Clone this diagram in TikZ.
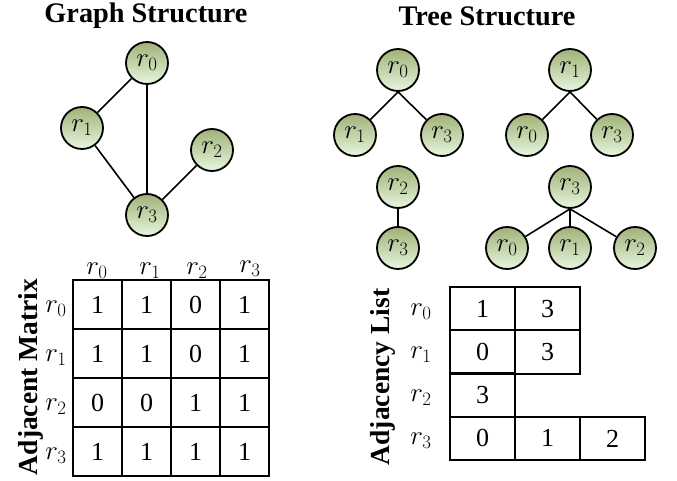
\RequirePackage{fix-cm}
\documentclass[tikz,border=0pt]{standalone}
\usepackage{fontspec}
\setmainfont{Liberation Serif}
\begin{document}
\begin{tikzpicture}[x=1pt,y=-1pt,
  vert/.style={circle,draw=black,line width=1.8pt,minimum size=42pt,inner sep=0pt,
    top color={rgb,255:red,160;green,178;blue,120},bottom color={rgb,255:red,230;green,246;blue,222},
    font=\fontsize{27}{31}\selectfont},
  edge/.style={line width=1.6pt},
  title/.style={font=\fontsize{28.3}{32}\selectfont\bfseries},
  cell/.style={draw=black,line width=2pt,minimum width=49pt,minimum height=49pt,inner sep=0pt,
    font=\fontsize{26}{30}\selectfont},
  lcell/.style={draw=black,line width=2pt,minimum width=65pt,minimum height=43.3pt,inner sep=0pt,
    font=\fontsize{26}{30}\selectfont},
  lab/.style={anchor=base,inner sep=0pt,font=\fontsize{27}{31}\selectfont},
  side/.style={rotate=90,font=\fontsize{27.5}{31}\selectfont\bfseries,inner sep=0pt}]
\useasboundingbox (0,0) rectangle (677,481);

% titles
\node[title] (tg) at (146,16) {Graph Structure};
\node[title] (tt) at (487,16) {Tree Structure};

% graph
\node[vert] (g0) at (147,63) {$r_0$};
\node[vert] (g1) at (82,128) {$r_1$};
\node[vert] (g2) at (212,150) {$r_2$};
\node[vert] (g3) at (147,215) {$r_3$};
\draw[edge] (g0) -- (g1);
\draw[edge] (g0) -- (g3);
\draw[edge] (g1) -- (g3);
\draw[edge] (g2) -- (g3);

% trees
\node[vert] (a0) at (398,70) {$r_0$};
\node[vert] (a1) at (355,135) {$r_1$};
\node[vert] (a3) at (442,135) {$r_3$};
\draw[edge] (a0.south) -- (a1);
\draw[edge] (a0.south) -- (a3);

\node[vert] (b1) at (570,70) {$r_1$};
\node[vert] (b0) at (527,135) {$r_0$};
\node[vert] (b3) at (612,135) {$r_3$};
\draw[edge] (b1.south) -- (b0);
\draw[edge] (b1.south) -- (b3);

\node[vert] (c2) at (398,187) {$r_2$};
\node[vert] (c3) at (398,248) {$r_3$};
\draw[edge] (c2) -- (c3);

\node[vert] (d3) at (570,187) {$r_3$};
\node[vert] (d0) at (507,248) {$r_0$};
\node[vert] (d1) at (570,248) {$r_1$};
\node[vert] (d2) at (635,248) {$r_2$};
\draw[edge] (d3.south) -- (d0);
\draw[edge] (d3.south) -- (d1);
\draw[edge] (d3.south) -- (d2);

% adjacency matrix
\node[side] (sm) at (31,377) {Adjacent Matrix};
\node[lab] (h0) at (97,274) {$r_0$};
\node[lab] (h1) at (150,274) {$r_1$};
\node[lab] (h2) at (197,274) {$r_2$};
\node[lab] (h3) at (250,272) {$r_3$};
\node[lab] (v0) at (56,312) {$r_0$};
\node[lab] (v1) at (56,361) {$r_1$};
\node[lab] (v2) at (56,410) {$r_2$};
\node[lab] (v3) at (56,459) {$r_3$};

\node[cell] (m00) at (97.5,304.5) {1};
\node[cell] (m01) at (146.5,304.5) {1};
\node[cell] (m02) at (195.5,304.5) {0};
\node[cell] (m03) at (244.5,304.5) {1};
\node[cell] (m10) at (97.5,353.5) {1};
\node[cell] (m11) at (146.5,353.5) {1};
\node[cell] (m12) at (195.5,353.5) {0};
\node[cell] (m13) at (244.5,353.5) {1};
\node[cell] (m20) at (97.5,402.5) {0};
\node[cell] (m21) at (146.5,402.5) {0};
\node[cell] (m22) at (195.5,402.5) {1};
\node[cell] (m23) at (244.5,402.5) {1};
\node[cell] (m30) at (97.5,451.5) {1};
\node[cell] (m31) at (146.5,451.5) {1};
\node[cell] (m32) at (195.5,451.5) {1};
\node[cell] (m33) at (244.5,451.5) {1};

% adjacency list
\node[side] (sl) at (383,377) {Adjacency List};
\node[lab] (w0) at (421,315) {$r_0$};
\node[lab] (w1) at (421,358) {$r_1$};
\node[lab] (w2) at (421,401) {$r_2$};
\node[lab] (w3) at (421,444) {$r_3$};

\node[lcell] (l00) at (482.5,308.6) {1};
\node[lcell] (l01) at (547.5,308.6) {3};
\node[lcell] (l10) at (482.5,351.9) {0};
\node[lcell] (l11) at (547.5,351.9) {3};
\node[lcell] (l20) at (482.5,395.1) {3};
\node[lcell] (l30) at (482.5,438.4) {0};
\node[lcell] (l31) at (547.5,438.4) {1};
\node[lcell] (l32) at (612.5,438.4) {2};
\end{tikzpicture}
\end{document}
